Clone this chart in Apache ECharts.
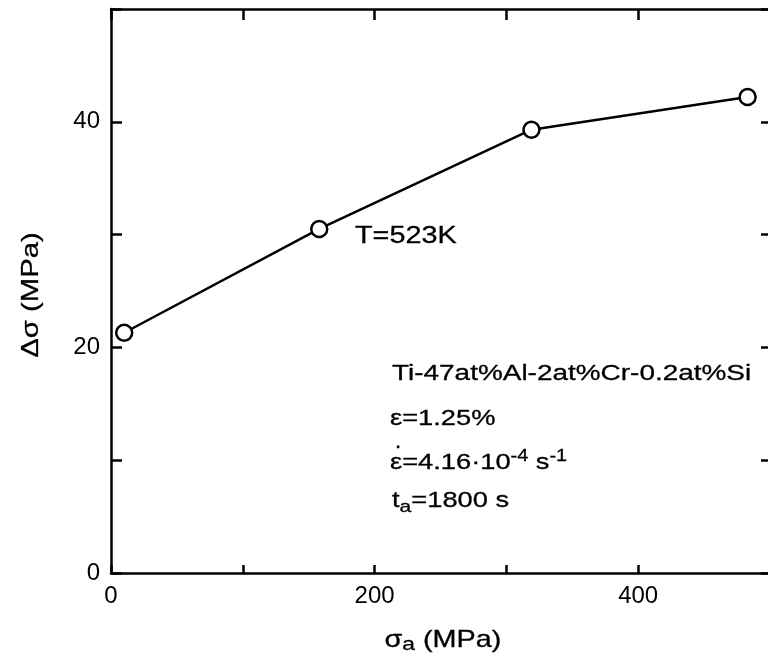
<!DOCTYPE html>
<html>
<head>
<meta charset="utf-8">
<script src="https://cdn.jsdelivr.net/npm/echarts@6/dist/echarts.min.js"></script>
<style>
html,body{margin:0;padding:0;background:#fff;}
#chart{width:768px;height:669px;}
</style>
</head>
<body>
<div id="chart"></div>
<script>
// Data
const stressApplied = [10, 158, 319, 483];      // sigma_a (MPa)
const stressDelta   = [21.3, 30.5, 39.3, 42.2]; // delta sigma (MPa)
const xTickLabels = [0, 200, 400];
const yTickLabels = [0, 20, 40];

const FONT = 'Liberation Sans, Arial, Helvetica, sans-serif';
const chart = echarts.init(document.getElementById('chart'), null, {renderer: 'canvas'});

const axisLineStyle = {color: '#000', width: 2.5};
const labelStyle = {color: '#000', fontSize: 24, fontFamily: FONT};
const txt = {fill: '#000', stroke: '#000', lineWidth: 0.3};

const option = {
  backgroundColor: '#fff',
  animation: false,
  grid: {left: 111, top: 9, width: 659, height: 564, containLabel: false, outerBoundsMode: 'none'},
  xAxis: [
    {
      type: 'value', min: 0, max: 500, interval: 100, position: 'bottom',
      axisLine: {show: true, onZero: false, lineStyle: axisLineStyle},
      axisTick: {show: true, inside: true, length: 8, lineStyle: axisLineStyle},
      axisLabel: Object.assign({margin: 11, formatter: v => xTickLabels.includes(v) ? String(v) : ''}, labelStyle),
      splitLine: {show: false}
    },
    {
      type: 'value', min: 0, max: 500, interval: 100, position: 'top',
      axisLine: {show: true, onZero: false, lineStyle: axisLineStyle},
      axisTick: {show: true, inside: true, length: 11, lineStyle: axisLineStyle},
      axisLabel: {show: false},
      splitLine: {show: false}
    }
  ],
  yAxis: [
    {
      type: 'value', min: 0, max: 50, interval: 10, position: 'left',
      axisLine: {show: true, onZero: false, lineStyle: axisLineStyle},
      axisTick: {show: true, inside: true, length: 11, lineStyle: axisLineStyle},
      axisLabel: Object.assign({margin: 11, formatter: v => yTickLabels.includes(v) ? String(v) : ''}, labelStyle),
      splitLine: {show: false}
    },
    {
      type: 'value', min: 0, max: 50, interval: 10, position: 'right',
      axisLine: {show: true, onZero: false, lineStyle: axisLineStyle},
      axisTick: {show: true, inside: true, length: 9, lineStyle: axisLineStyle},
      axisLabel: {show: false},
      splitLine: {show: false}
    }
  ],
  series: [{
    type: 'line',
    xAxisIndex: 0, yAxisIndex: 0,
    data: stressApplied.map((x, i) => [x, stressDelta[i]]),
    symbol: 'circle', symbolSize: 16,
    itemStyle: {color: '#fff', borderColor: '#000', borderWidth: 2.5},
    lineStyle: {color: '#000', width: 2.5},
    z: 5
  }],
  graphic: [
    {type: 'text', x: 31, y: 295, rotation: Math.PI / 2, scaleX: 1.22,
     style: Object.assign({text: 'Δσ (MPa)', font: '24px ' + FONT, align: 'center', verticalAlign: 'middle'}, txt)},
    {type: 'text', x: 443, y: 640, scaleX: 1.2,
     style: Object.assign({text: '{m|σ}{s|a}{m| (MPa)}', align: 'center', verticalAlign: 'middle',
       rich: {m: {fontSize: 24, fontFamily: FONT},
              s: {fontSize: 19, fontFamily: FONT, padding: [10, 0, 0, 0]}}}, txt)},
    {type: 'text', x: 355, y: 236, scaleX: 1.2,
     style: Object.assign({text: 'T=523K', font: '24px ' + FONT, align: 'left', verticalAlign: 'middle'}, txt)},
    {type: 'text', x: 392, y: 374, scaleX: 1.27,
     style: Object.assign({text: 'Ti-47at%Al-2at%Cr-0.2at%Si', font: '22px ' + FONT, align: 'left', verticalAlign: 'middle'}, txt)},
    {type: 'text', x: 390, y: 419, scaleX: 1.24,
     style: Object.assign({text: 'ε=1.25%', font: '22px ' + FONT, align: 'left', verticalAlign: 'middle'}, txt)},
    {type: 'text', x: 395, y: 453, scaleX: 1,
     style: Object.assign({text: '.', font: '22px ' + FONT, align: 'left', verticalAlign: 'bottom'}, txt)},
    {type: 'text', x: 390, y: 463, scaleX: 1.24,
     style: Object.assign({text: '{m|ε=4.16·10}{p|-4}{m| s}{p|-1}', align: 'left', verticalAlign: 'middle',
       rich: {m: {fontSize: 22, fontFamily: FONT},
              p: {fontSize: 16, fontFamily: FONT, padding: [0, 0, 12, 0]}}}, txt)},
    {type: 'text', x: 392, y: 501, scaleX: 1.24,
     style: Object.assign({text: '{m|t}{s|a}{m|=1800 s}', align: 'left', verticalAlign: 'middle',
       rich: {m: {fontSize: 22, fontFamily: FONT},
              s: {fontSize: 17, fontFamily: FONT, padding: [12, 0, 0, 0]}}}, txt)}
  ]
};
chart.setOption(option);
</script>
</body>
</html>
